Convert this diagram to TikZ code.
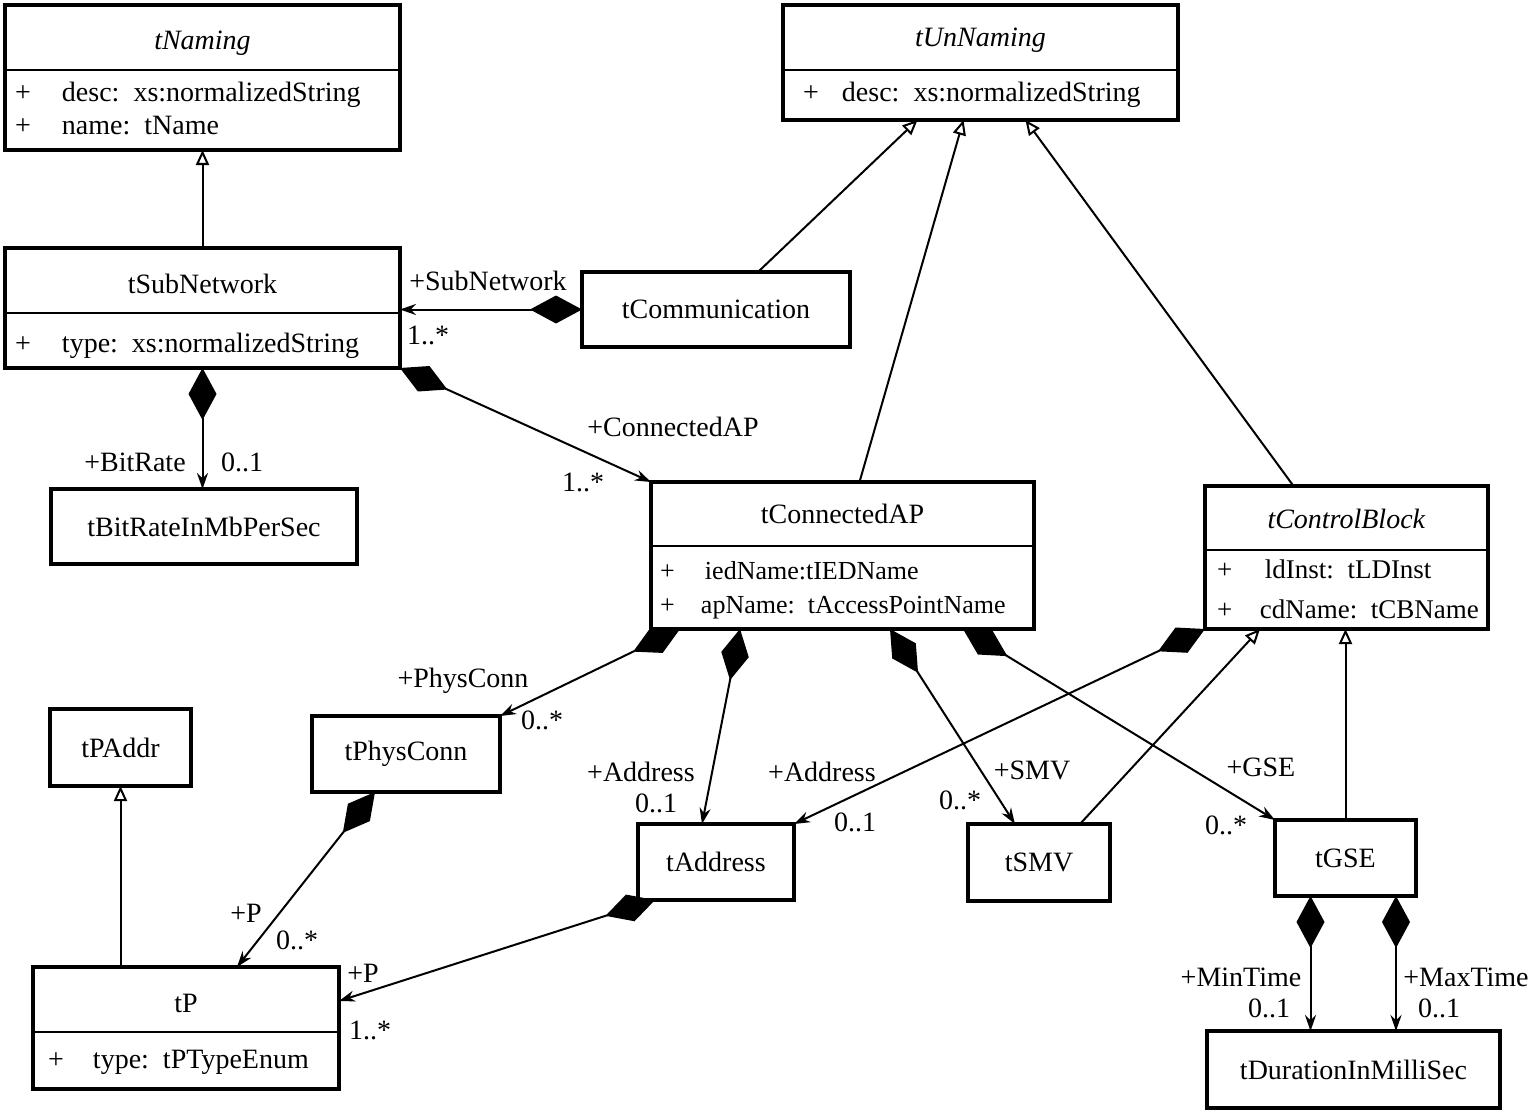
\documentclass[tikz,border=0pt]{standalone}
\usepackage{fontspec}
\setmainfont{Liberation Serif}
\usetikzlibrary{arrows.meta}
\newcommand{\umlplus}[1]{\makebox[#1][l]{+}}

\begin{document}
\begin{tikzpicture}[x=1pt, y=-1pt]
\tikzset{ >={Stealth[length=16pt, width=11pt]}, inner sep=0pt, outer sep=0pt,
  every node/.append style={font=\fontsize{28}{32}\selectfont},
  cls/.style={draw, line width=3.5pt, anchor=north west},
  sep/.style={line width=2pt},
  ttl/.style={anchor=base},
  attr/.style={anchor=base west},
  comp/.style={line width=2pt, {Diamond[length=52pt, width=28pt]}->},
  gen/.style={line width=2pt, -{Triangle[open, length=15pt, width=13pt]}},
}
\useasboundingbox (0,0) rectangle (1534,1113);
%\draw [lightgray, dashed] (0,0) grid [step=100] (1534,1113);

% classes
\node [cls, minimum width=395pt, minimum height=145pt] (NAM) at (5,5) {};
\node [cls, minimum width=395pt, minimum height=115pt] (UNN) at (783,5) {};
\node [cls, minimum width=395pt, minimum height=120pt] (SUB) at (5,248) {};
\node [cls, minimum width=268pt, minimum height=75pt]  (COM) at (582,272) {tCommunication};
\node [cls, minimum width=306pt, minimum height=75pt]  (BIT) at (51,489) {tBitRateInMbPerSec};
\node [cls, minimum width=383pt, minimum height=147pt] (CAP) at (651,482) {};
\node [cls, minimum width=283pt, minimum height=143pt] (CB)  at (1205,486) {};
\node [cls, minimum width=141pt, minimum height=77pt]  (PAD) at (50,709) {tPAddr};
\node [cls, minimum width=188pt, minimum height=76pt]  (PHY) at (312,716) {tPhysConn};
\node [cls, minimum width=156pt, minimum height=76pt]  (ADR) at (638,824) {tAddress};
\node [cls, minimum width=142pt, minimum height=77pt]  (SMV) at (968,824) {tSMV};
\node [cls, minimum width=141pt, minimum height=76pt]  (GSE) at (1275,820) {tGSE};
\node [cls, minimum width=306pt, minimum height=122pt] (TP)  at (33,967) {};
\node [cls, minimum width=293pt, minimum height=77pt]  (DUR) at (1207,1031) {tDurationInMilliSec};

\draw [sep] (NAM.west |- 0,70)   -- (NAM.east |- 0,70);
\draw [sep] (UNN.west |- 0,70)   -- (UNN.east |- 0,70);
\draw [sep] (SUB.west |- 0,313)  -- (SUB.east |- 0,313);
\draw [sep] (CAP.west |- 0,546)  -- (CAP.east |- 0,546);
\draw [sep] (CB.west |- 0,550)   -- (CB.east |- 0,550);
\draw [sep] (TP.west |- 0,1032)  -- (TP.east |- 0,1032);

\node [ttl] (NAMt) at (202.5,50)  {\textit{tNaming}};
\node [ttl] (UNNt) at (980.5,47)  {\textit{tUnNaming}};
\node [ttl] (SUBt) at (202.5,293) {tSubNetwork};
\node [ttl] (CAPt) at (842.5,523) {tConnectedAP};
\node [ttl] (CBt)  at (1346.5,528) {\textit{tControlBlock}};
\node [ttl] (TPt)  at (186,1012)  {tP};

\node [attr] (NAMa) at (15,102)   {\umlplus{47pt}desc:~~xs:normalizedString};
\node [attr] (NAMb) at (15,135)   {\umlplus{47pt}name:~~tName};
\node [attr] (UNNa) at (803,102)  {\umlplus{39pt}desc:~~xs:normalizedString};
\node [attr] (SUBa) at (15,352)   {\umlplus{47pt}type:~~xs:normalizedString};
\node [attr, font=\fontsize{26}{30}\selectfont] (CAPa) at (660,579) {\umlplus{45pt}iedName:tIEDName};
\node [attr, font=\fontsize{26}{30}\selectfont] (CAPb) at (660,613) {\umlplus{41pt}apName:~~tAccessPointName};
\node [attr, font=\fontsize{27}{31}\selectfont] (CBa)  at (1217,578) {\umlplus{48pt}ldInst:~~tLDInst};
\node [attr, font=\fontsize{27}{31}\selectfont] (CBb)  at (1217,618) {\umlplus{43pt}cdName:~~tCBName};
\node [attr] (TPa)  at (48,1068)  {\umlplus{45pt}type:~~tPTypeEnum};

% generalizations
\draw [gen] (SUB.north) -- (NAM.south);
\draw [gen] ([xshift=42pt]COM.north) -- ([xshift=-63pt]UNN.south);
\draw [gen] ([xshift=17pt]CAP.north) -- ([xshift=-17pt]UNN.south);
\draw [gen] ([xshift=-53pt]CB.north) -- ([xshift=45pt]UNN.south);
\draw [gen] ([xshift=41pt]SMV.north) -- ([xshift=-86.5pt]CB.south);
\draw [gen] (GSE.north) -- (GSE.north |- CB.south);
\draw [gen] (TP.north -| PAD.south) -- (PAD.south);

% compositions
\coordinate (G1) at ([xshift=-35pt]GSE.south);
\coordinate (G2) at ([xshift=50.5pt]GSE.south);

\draw [comp] (COM.west) -- (COM.west -| SUB.east);
\draw [comp] (SUB.south east) -- (CAP.north west);
\draw [comp] (SUB.south) -- (SUB.south |- BIT.north);
\draw [comp] ([xshift=29pt]CAP.south west) -- (PHY.north east);
\draw [comp] ([xshift=89pt]CAP.south west) -- ([xshift=-14pt]ADR.north);
\draw [comp] ([xshift=47.5pt]CAP.south) -- ([xshift=-24pt]SMV.north);
\draw [comp] ([xshift=-71pt]CAP.south east) -- (GSE.north west);
\draw [comp] (CB.south west) -- (ADR.north east);
\draw [comp] ([xshift=17pt]ADR.south west) -- ([yshift=27pt]TP.east);
\draw [comp] ([xshift=-31pt]PHY.south) -- ([xshift=51pt]TP.north);
\draw [comp] (G1) -- (G1 |- DUR.north);
\draw [comp] (G2) -- (G2 |- DUR.north);

% roles and multiplicities
\node (COMr) at (488,281)  {+SubNetwork};
\node (COMm) at (428,335)  {1..*};
\node (SUBr) at (673,427)  {+ConnectedAP};
\node (SUBm) at (583,482)  {1..*};
\node (BITr) at (135,462)  {+BitRate};
\node (BITm) at (242,462)  {0..1};
\node (PHYr) at (463,681)  {+PhysConn};
\node (PHYm) at (542,720)  {0..*};
\node (ADRr) at (641,772)  {+Address};
\node (ADRm) at (656,803)  {0..1};
\node (CBr)  at (822,772)  {+Address};
\node (CBm)  at (855,822)  {0..1};
\node (SMVr) at (1032,770) {+SMV};
\node (SMVm) at (960,800)  {0..*};
\node (GSEr) at (1261,767) {+GSE};
\node (GSEm) at (1226,825) {0..*};
\node (TPr)  at (246,913)  {+P};
\node (TPm)  at (297,940)  {0..*};
\node (TPs)  at (363,973)  {+P};
\node (TPn)  at (370,1030) {1..*};
\node (G1r)  at (1241,977) {+MinTime};
\node (G1m)  at (1269,1008) {0..1};
\node (G2r)  at (1466,977) {+MaxTime};
\node (G2m)  at (1439,1008) {0..1};

\end{tikzpicture}
\end{document}
